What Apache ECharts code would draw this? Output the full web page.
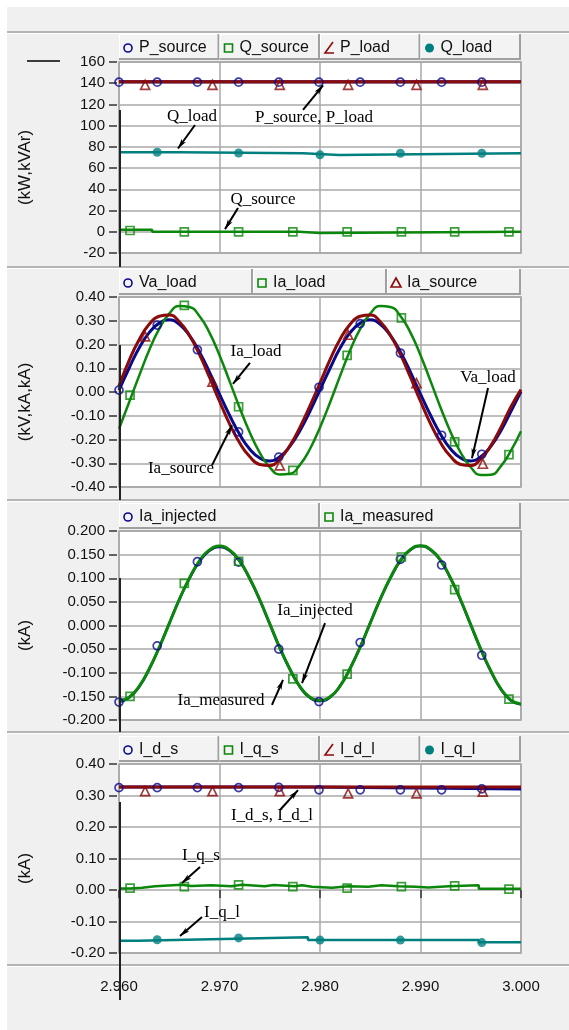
<!DOCTYPE html>
<html>
<head>
<meta charset="utf-8">
<script src="https://cdn.jsdelivr.net/npm/echarts@6/dist/echarts.min.js"></script>
<style>
  html, body { margin: 0; padding: 0; background: #fff; }
  #chart { width: 569px; height: 1030px; }
</style>
</head>
<body>
<div id="chart"></div>
<script>
// ---- data ----
const tWave = [
  2.960, 2.961, 2.962, 2.963, 2.964, 2.965, 2.966, 2.967, 2.968, 2.969,
  2.970, 2.971, 2.972, 2.973, 2.974, 2.975, 2.976, 2.977, 2.978, 2.979,
  2.980, 2.981, 2.982, 2.983, 2.984, 2.985, 2.986, 2.987, 2.988, 2.989,
  2.990, 2.991, 2.992, 2.993, 2.994, 2.995, 2.996, 2.997, 2.998, 2.999, 3.000
]

// marker times (PSCAD draws a symbol every few samples)
const tCircle = [2.9600, 2.9638, 2.9678, 2.9719, 2.9759, 2.9799, 2.9840, 2.9880, 2.9921, 2.9961]
const tTriangle = [2.9626, 2.9693, 2.9760, 2.9828, 2.9896, 2.9962]
const tSquare = [2.9611, 2.9665, 2.9719, 2.9773, 2.9827, 2.9881, 2.9934, 2.9988]
const tDot = [2.9638, 2.9719, 2.9800, 2.9880, 2.9961]

// panel 1: powers
const tP = [2.960, 3.000]
const pSource = [141.5, 141.5]
const pLoad = [141.5, 141.5]
const tQs = [2.960, 2.9633, 2.9779, 2.9800, 3.000]
const qSource = [1.9, 0.0, -1.2, 0.0, 0.0]
const tQl = [2.960, 2.9660, 2.9783, 2.9819, 3.000]
const qLoad = [75.0, 74.0, 72.4, 74.0, 74.0]
const pSourceMk = [141, 141, 141, 141, 141, 141, 141, 141, 141, 141]
const pLoadMk = [138.5, 138.5, 138.5, 138.5, 138.5, 138.5]
const qSourceMk = [1.2, 0, 0, 0, 0, 0, 0, 0]
const qLoadMk = [74.9, 74.2, 72.5, 74.0, 74.0]

// panel 2: voltage / currents
const vaLoad = [
  0.008, 0.100, 0.185, 0.250, 0.290, 0.304, 0.285, 0.238, 0.169, 0.084,
  -0.009, -0.098, -0.178, -0.240, -0.278, -0.290, -0.273, -0.229, -0.163, -0.081,
  0.009, 0.100, 0.185, 0.250, 0.290, 0.304, 0.285, 0.238, 0.169, 0.084,
  -0.009, -0.098, -0.178, -0.240, -0.278, -0.290, -0.273, -0.229, -0.163, -0.081, 0.002
]
const iaLoad = [
  -0.155, -0.044, 0.068, 0.176, 0.266, 0.330, 0.362, 0.358, 0.320, 0.250,
  0.155, 0.046, -0.066, -0.169, -0.255, -0.317, -0.347, -0.344, -0.307, -0.240,
  -0.149, -0.044, 0.068, 0.176, 0.266, 0.330, 0.362, 0.358, 0.320, 0.250,
  0.155, 0.046, -0.066, -0.169, -0.255, -0.317, -0.349, -0.348, -0.312, -0.247, -0.165
]
const iaSource = [
  0.025, 0.132, 0.220, 0.285, 0.319, 0.324, 0.296, 0.239, 0.158, 0.062,
  -0.039, -0.134, -0.214, -0.272, -0.305, -0.309, -0.282, -0.226, -0.149, -0.058,
  0.038, 0.136, 0.222, 0.285, 0.319, 0.324, 0.296, 0.239, 0.158, 0.062,
  -0.039, -0.134, -0.214, -0.272, -0.305, -0.309, -0.282, -0.226, -0.149, -0.062, 0.010
]
const vaLoadMk = [0.008, 0.282, 0.178, -0.168, -0.274, 0.020, 0.288, 0.164, -0.182, -0.262]
const iaLoadMk = [-0.013, 0.365, -0.062, -0.330, 0.154, 0.312, -0.210, -0.264]
const iaSourceMk = [0.234, 0.044, -0.309, 0.241, 0.037, -0.302]

// panel 3: injected / measured current
const iaInjected = [
  -0.162, -0.153, -0.130, -0.093, -0.046, 0.005, 0.055, 0.099, 0.135, 0.158,
  0.166, 0.158, 0.136, 0.099, 0.054, 0.003, -0.048, -0.093, -0.130, -0.153,
  -0.160, -0.152, -0.128, -0.090, -0.045, 0.006, 0.056, 0.100, 0.137, 0.160,
  0.168, 0.160, 0.137, 0.099, 0.053, 0.001, -0.051, -0.097, -0.135, -0.159, -0.167
]
const iaMeasured = [
  -0.160, -0.152, -0.129, -0.092, -0.047, 0.004, 0.055, 0.100, 0.137, 0.160,
  0.168, 0.160, 0.137, 0.100, 0.055, 0.004, -0.047, -0.092, -0.129, -0.152,
  -0.158, -0.151, -0.128, -0.091, -0.046, 0.005, 0.056, 0.101, 0.138, 0.161,
  0.169, 0.161, 0.138, 0.100, 0.054, 0.002, -0.050, -0.096, -0.134, -0.158, -0.166
]
const iaInjectedMk = [-0.162, -0.043, 0.135, 0.134, -0.050, -0.161, -0.036, 0.140, 0.128, -0.063]
const iaMeasuredMk = [-0.150, 0.089, 0.136, -0.113, -0.103, 0.145, 0.076, -0.156]

// panel 4: dq currents
const tIds = [2.960, 2.979, 3.000]
const idS = [0.327, 0.321, 0.321]
const tIdl = [2.960, 3.000]
const idL = [0.327, 0.327]
const tIqs = [2.960, 2.9611, 2.9623, 2.9636, 2.9662, 2.9672, 2.9692, 2.9712, 2.9722, 2.9745, 2.9754, 2.9775,
  2.9782, 2.9792, 2.9812, 2.9828, 2.9848, 2.9861, 2.9878, 2.9895, 2.9908, 2.9928, 2.9958, 3.000]
const iqS = [0.005, 0.007, 0.012, 0.017, 0.013, 0.015, 0.012, 0.017, 0.012, 0.016, 0.012, 0.015,
  0.010, 0.007, 0.012, 0.010, 0.015, 0.012, 0.010, 0.008, 0.012, 0.015, 0.004, 0.004]
const tIql = [2.960, 2.9619, 2.9691, 2.9788, 2.9958, 3.000]
const iqL = [-0.161, -0.156, -0.150, -0.159, -0.166, -0.166]
const idSMk = [0.325, 0.325, 0.325, 0.325, 0.326, 0.318, 0.318, 0.318, 0.318, 0.321]
const idLMk = [0.314, 0.314, 0.314, 0.307, 0.307, 0.312]
const iqSMk = [0.006, 0.011, 0.016, 0.011, 0.006, 0.011, 0.013, 0.003]
const iqLMk = [-0.158, -0.152, -0.159, -0.159, -0.167]

// ---- styling / layout ----
const SANS = '"Liberation Sans", Arial, sans-serif'
const SERIF = '"Liberation Serif", "Times New Roman", serif'
const NAVY = '#0a0a8c'
const GREEN = '#0b870b'
const RED = '#8b0a0a'
const TEAL = '#007f7f'
const GRIDC = '#a8a8a8'

const LEFT = 119
const WIDTH = 402
const panels = [
  { top: 62, height: 191, min: -20, max: 160, step: 20, dec: 0, name: '(kW,kVAr)' },
  { top: 297, height: 190, min: -0.4, max: 0.4, step: 0.1, dec: 2, name: '(kV,kA,kA)' },
  { top: 531, height: 189, min: -0.2, max: 0.2, step: 0.05, dec: 3, name: '(kA)' },
  { top: 764, height: 189, min: -0.2, max: 0.4, step: 0.1, dec: 2, name: '(kA)' }
]
const legends = [
  [['P_source', 'circle', NAVY], ['Q_source', 'square', GREEN], ['P_load', 'angle', RED], ['Q_load', 'dot', TEAL]],
  [['Va_load', 'circle', NAVY], ['Ia_load', 'square', GREEN], ['Ia_source', 'triangle', RED]],
  [['Ia_injected', 'circle', NAVY], ['Ia_measured', 'square', GREEN]],
  [['I_d_s', 'circle', NAVY], ['I_q_s', 'square', GREEN], ['I_d_l', 'angle', RED], ['I_q_l', 'dot', TEAL]]
]
// annotation arrows, in data coordinates [from, to]
const arrows = [
  [[[2.96756, 100.6], [2.96587, 78.5]], [[2.97831, 114.8], [2.98030, 138.0]], [[2.97184, 22.4], [2.97055, 2.5]]],
  [[[2.97303, 0.123], [2.97134, 0.034]], [[2.96925, -0.309], [2.97124, -0.140]], [[2.99672, 0.017], [2.99512, -0.279]]],
  [[[2.98050, 0.005], [2.97821, -0.122]], [[2.97522, -0.168], [2.97632, -0.115]]],
  [[[2.97602, 0.254], [2.97781, 0.317]], [[2.96806, 0.073], [2.96627, 0.022]], [[2.96826, -0.086], [2.96607, -0.146]]]
]
const notes = [
  ['Q_load', 192, 117], ['P_source, P_load', 314, 118], ['Q_source', 263, 200],
  ['Ia_load', 256, 352], ['Ia_source', 181, 469], ['Va_load', 488, 378],
  ['Ia_injected', 315, 611], ['Ia_measured', 221, 701],
  ['I_d_s, I_d_l', 272, 816], ['I_q_s', 201, 856], ['I_q_l', 222, 913]
]

function zip(t, v) {
  return t.map((x, i) => [x, v[i]])
}

function lineSeries(gi, t, v, color, width, extra) {
  return Object.assign({
    type: 'line', xAxisIndex: gi, yAxisIndex: gi, data: zip(t, v),
    symbol: 'none', z: 2, silent: true,
    lineStyle: { color: color, width: width },
    itemStyle: { color: color }
  }, extra || {})
}

const markerShape = {
  circle: { symbol: 'circle', size: 8, hollow: true },
  square: { symbol: 'rect', size: 8, hollow: true },
  triangle: { symbol: 'triangle', size: 9, hollow: true },
  dot: { symbol: 'circle', size: 9, hollow: false }
}

function markSeries(gi, t, v, kind, color) {
  const m = markerShape[kind]
  return {
    type: 'scatter', xAxisIndex: gi, yAxisIndex: gi, data: zip(t, v),
    symbol: m.symbol, symbolSize: m.size, z: 3, silent: true,
    itemStyle: m.hollow
      ? { color: 'rgba(255,255,255,0)', borderColor: color, borderWidth: 1.7 }
      : { color: color }
  }
}

function arrowMarks(list) {
  return {
    markLine: {
      silent: true, animation: false,
      symbol: ['none', 'arrow'], symbolSize: [4, 10],
      lineStyle: { color: '#000', width: 2, type: 'solid' },
      label: { show: false },
      emphasis: { disabled: true },
      data: list.map(a => [{ coord: a[0] }, { coord: a[1] }])
    }
  }
}

const series = [
  // panel 1
  lineSeries(0, tP, pSource, NAVY, 3),
  lineSeries(0, tQs, qSource, GREEN, 2.5, { step: 'end' }),
  lineSeries(0, tP, pLoad, RED, 3),
  lineSeries(0, tQl, qLoad, TEAL, 2.5, Object.assign({ step: 'end' }, arrowMarks(arrows[0]))),
  markSeries(0, tCircle, pSourceMk, 'circle', NAVY),
  markSeries(0, tSquare, qSourceMk, 'square', GREEN),
  markSeries(0, tTriangle, pLoadMk, 'triangle', RED),
  markSeries(0, tDot, qLoadMk, 'dot', TEAL),
  // panel 2
  lineSeries(1, tWave, vaLoad, NAVY, 3, { smooth: true }),
  lineSeries(1, tWave, iaLoad, GREEN, 2.5, { smooth: true }),
  lineSeries(1, tWave, iaSource, RED, 3, Object.assign({ smooth: true }, arrowMarks(arrows[1]))),
  markSeries(1, tCircle, vaLoadMk, 'circle', NAVY),
  markSeries(1, tSquare, iaLoadMk, 'square', GREEN),
  markSeries(1, tTriangle, iaSourceMk, 'triangle', RED),
  // panel 3
  lineSeries(2, tWave, iaInjected, NAVY, 2.5, { smooth: true }),
  lineSeries(2, tWave, iaMeasured, GREEN, 3, Object.assign({ smooth: true }, arrowMarks(arrows[2]))),
  markSeries(2, tCircle, iaInjectedMk, 'circle', NAVY),
  markSeries(2, tSquare, iaMeasuredMk, 'square', GREEN),
  // panel 4
  lineSeries(3, tIds, idS, NAVY, 3, { step: 'end' }),
  lineSeries(3, tIqs, iqS, GREEN, 2.5, { step: 'end' }),
  lineSeries(3, tIdl, idL, RED, 3),
  lineSeries(3, tIql, iqL, TEAL, 2.5, Object.assign({ step: 'end' }, arrowMarks(arrows[3]))),
  markSeries(3, tCircle, idSMk, 'circle', NAVY),
  markSeries(3, tSquare, iqSMk, 'square', GREEN),
  markSeries(3, tTriangle, idLMk, 'triangle', RED),
  markSeries(3, tDot, iqLMk, 'dot', TEAL)
]

// ---- decoration: panel frames, legends, labels ----
const graphic = []
graphic.push({ type: 'rect', z: 1, shape: { x: 0, y: 0, width: 569, height: 7 }, style: { fill: '#fff' } })
graphic.push({ type: 'rect', z: 1, shape: { x: 0, y: 0, width: 7, height: 1030 }, style: { fill: '#fff' } })
;[32, 267, 500, 732, 965].forEach(y => {
  graphic.push({ type: 'line', z: 1, shape: { x1: 7, y1: y, x2: 569, y2: y }, style: { stroke: '#a0a0a0', lineWidth: 1.5 } })
  graphic.push({ type: 'line', z: 1, shape: { x1: 7, y1: y + 1.5, x2: 569, y2: y + 1.5 }, style: { stroke: '#fff', lineWidth: 1 } })
})
// cursor line at the left edge and its key
;[[110, 267], [345, 500], [578, 732], [802, 1000]].forEach(s => {
  graphic.push({ type: 'line', z: 50, shape: { x1: 120, y1: s[0], x2: 120, y2: s[1] }, style: { stroke: '#222', lineWidth: 2 } })
})
graphic.push({ type: 'line', z: 50, shape: { x1: 27, y1: 61, x2: 60, y2: 61 }, style: { stroke: '#000', lineWidth: 1.5 } })

function legendIcon(kind, cx, cy, color) {
  if (kind === 'circle') return { type: 'circle', z: 60, shape: { cx, cy, r: 4 }, style: { fill: 'none', stroke: color, lineWidth: 1.6 } }
  if (kind === 'dot') return { type: 'circle', z: 60, shape: { cx, cy, r: 4.5 }, style: { fill: color } }
  if (kind === 'square') return { type: 'rect', z: 60, shape: { x: cx - 4, y: cy - 4, width: 8, height: 8 }, style: { fill: 'none', stroke: color, lineWidth: 1.6 } }
  if (kind === 'triangle') return { type: 'polygon', z: 60, shape: { points: [[cx, cy - 5], [cx + 5, cy + 4], [cx - 5, cy + 4]] }, style: { fill: 'none', stroke: color, lineWidth: 1.6 } }
  return { type: 'polyline', z: 60, shape: { points: [[cx + 4, cy - 6], [cx - 4, cy + 5], [cx + 5, cy + 5]] }, style: { fill: 'none', stroke: color, lineWidth: 1.6 } }
}

panels.forEach((p, pi) => {
  const items = legends[pi]
  const w = WIDTH / items.length
  const by = p.top - 28
  items.forEach((it, k) => {
    const bx = LEFT + k * w
    graphic.push({ type: 'rect', z: 55, shape: { x: bx, y: by, width: w, height: 26 }, style: { fill: '#f3f3f3', stroke: null } })
    graphic.push({ type: 'line', z: 56, shape: { x1: bx + 0.5, y1: by, x2: bx + 0.5, y2: by + 26 }, style: { stroke: '#fff', lineWidth: 1 } })
    graphic.push({ type: 'line', z: 56, shape: { x1: bx, y1: by + 0.5, x2: bx + w, y2: by + 0.5 }, style: { stroke: '#fff', lineWidth: 1 } })
    graphic.push({ type: 'line', z: 56, shape: { x1: bx + w - 1, y1: by, x2: bx + w - 1, y2: by + 26 }, style: { stroke: '#a0a0a0', lineWidth: 2 } })
    graphic.push({ type: 'line', z: 56, shape: { x1: bx, y1: by + 25, x2: bx + w, y2: by + 25 }, style: { stroke: '#a0a0a0', lineWidth: 2 } })
    graphic.push(legendIcon(it[1], bx + 9, p.top - 14, it[2]))
    graphic.push({
      type: 'text', z: 60, x: bx + 20, y: p.top - 14,
      style: { text: it[0], fill: '#111', fontSize: 16, fontFamily: SANS, align: 'left', verticalAlign: 'middle', textAlign: 'left', textVerticalAlign: 'middle' }
    })
  })
  graphic.push({
    type: 'text', z: 60, x: 25, y: p.top + p.height / 2 + 10, rotation: Math.PI / 2,
    style: { text: p.name, fill: '#111', fontSize: 17, fontFamily: SANS, align: 'center', verticalAlign: 'middle', textAlign: 'center', textVerticalAlign: 'middle' }
  })
})

notes.forEach(n => {
  graphic.push({
    type: 'text', z: 60, x: n[1], y: n[2],
    style: { text: n[0], fill: '#000', fontSize: 17, fontFamily: SERIF, align: 'center', verticalAlign: 'middle', textAlign: 'center', textVerticalAlign: 'middle' }
  })
})

function fmt(dec) {
  return v => (Math.abs(v) < 1e-9 ? 0 : v).toFixed(dec)
}

const option = {
  animation: false,
  backgroundColor: '#f0f0f0',
  grid: panels.map(p => ({
    left: LEFT, width: WIDTH, top: p.top, height: p.height,
    show: true, backgroundColor: '#fff', borderColor: '#a0a0a0', borderWidth: 1.5
  })),
  xAxis: panels.map((p, i) => {
    const last = i === panels.length - 1
    return {
      gridIndex: i, type: 'value', min: 2.96, max: 3.0, interval: 0.01,
      offset: last ? 12 : 0,
      axisLine: { show: false },
      axisTick: { show: last, length: 8, lineStyle: { color: '#333', width: 1.5 } },
      axisLabel: { show: last, margin: 14, fontSize: 15, fontFamily: SANS, color: '#111', formatter: fmt(3) },
      splitLine: { show: true, lineStyle: { color: GRIDC, width: 1.5 } }
    }
  }),
  yAxis: panels.map((p, i) => ({
    gridIndex: i, type: 'value', min: p.min, max: p.max, interval: p.step,
    offset: 2,
    axisLine: { show: false },
    axisTick: { show: true, length: 8, lineStyle: { color: '#333', width: 1.5 } },
    axisLabel: { margin: 12, fontSize: 15, fontFamily: SANS, color: '#111', formatter: fmt(p.dec) },
    splitLine: { show: true, lineStyle: { color: GRIDC, width: 1.5 } }
  })),
  series: series,
  graphic: graphic
}

const chart = echarts.init(document.getElementById('chart'))
chart.setOption(option)
</script>
</body>
</html>
